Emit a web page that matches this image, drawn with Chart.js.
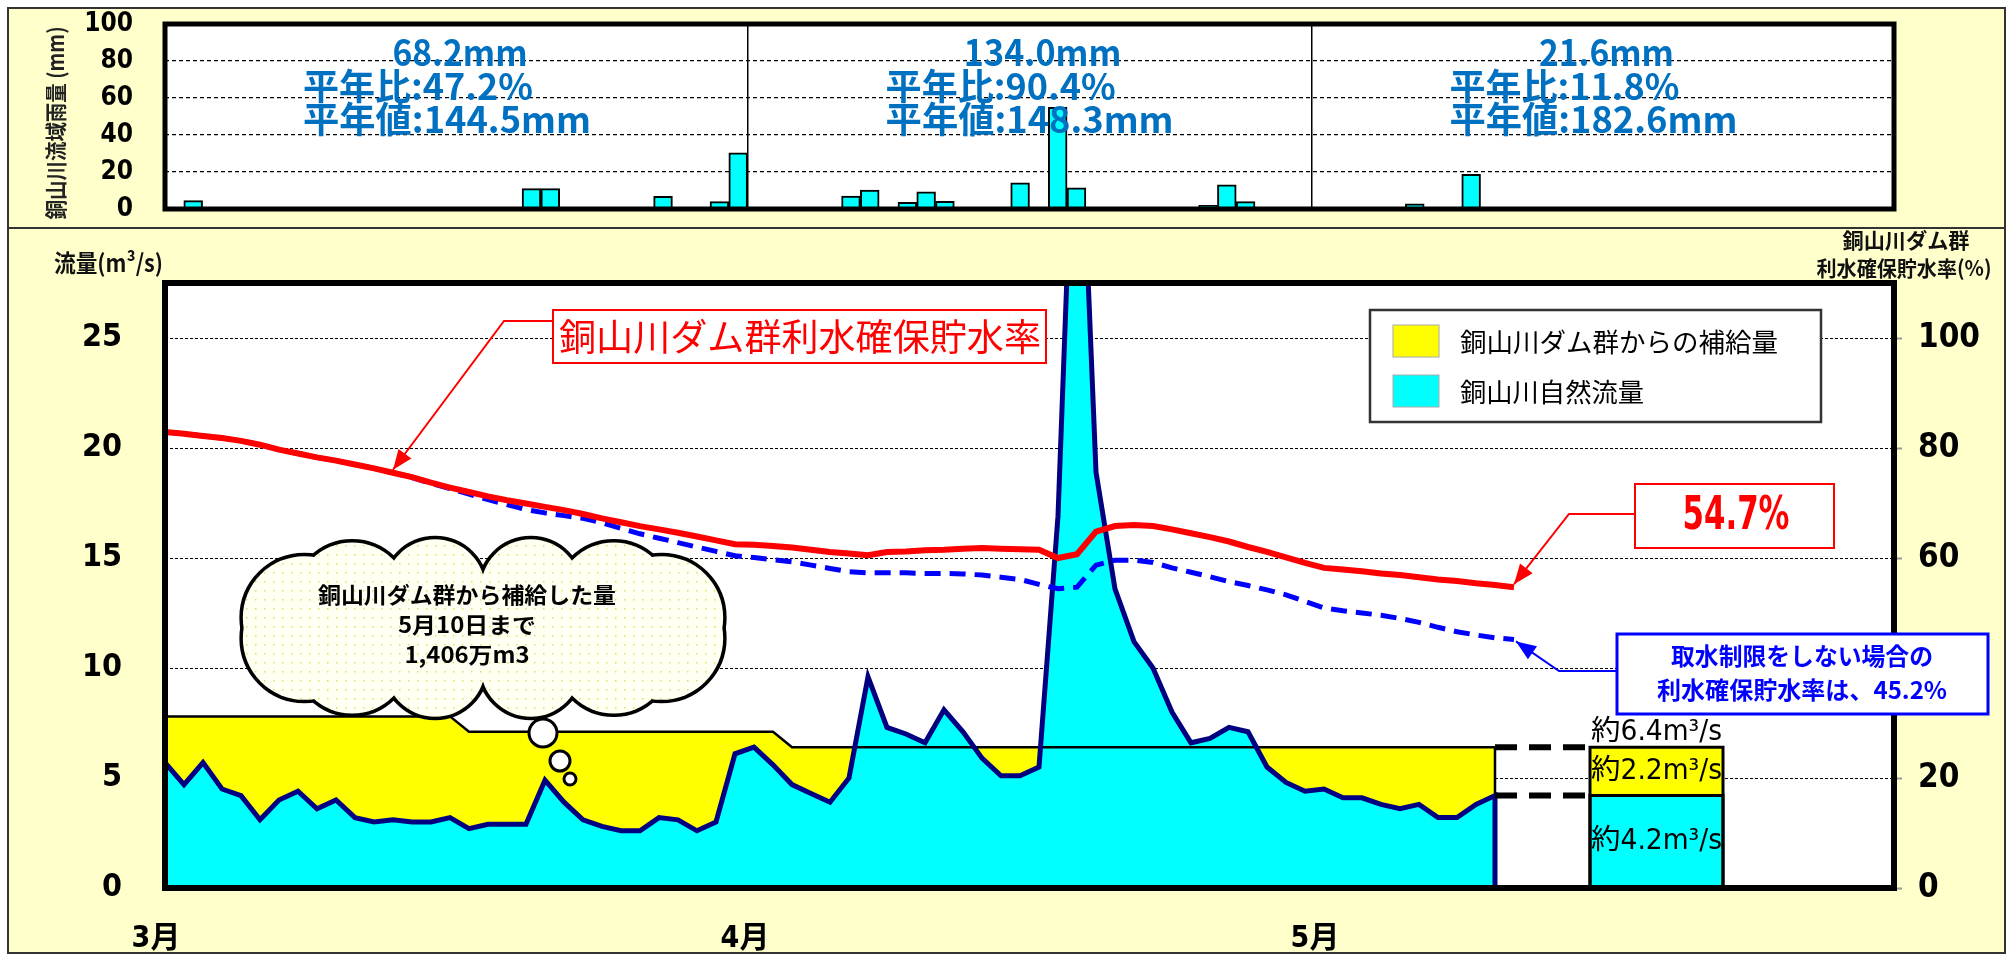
<!DOCTYPE html>
<html lang="ja">
<head>
<meta charset="utf-8">
<script src="https://cdn.jsdelivr.net/npm/chart.js@4.4.0/dist/chart.umd.min.js"></script>
<style>
  html, body { margin: 0; padding: 0; background: #fff; }
  body { width: 2011px; height: 956px; position: relative; overflow: hidden; }
  .panel { position: absolute; box-sizing: border-box; background: #ffffcc; border: 2px solid #333; }
  #rainPanel { left: 7px; top: 7px; width: 1999px; height: 222px; }
  #flowPanel { left: 7px; top: 227px; width: 1999px; height: 727px; }
  canvas { position: absolute; left: 0; }
  #rainChart { top: 0; }
  #flowChart { top: 227px; }
</style>
</head>
<body>
<div class="panel" id="rainPanel"></div>
<div class="panel" id="flowPanel"></div>
<canvas id="rainChart" width="2011" height="227"></canvas>
<canvas id="flowChart" width="2011" height="729"></canvas>
<script>
const NARROW = "'Liberation Sans Narrow', 'Arial Narrow', 'DejaVu Sans Condensed', 'Noto Sans CJK JP', sans-serif";
const JP = "'Noto Sans CJK JP', 'Noto Sans', sans-serif";

// x axis: 3/1 .. 5/31
const monthNames = ['3月', '4月', '5月'];
const monthDays = [31, 30, 31];
const monthStarts = [0, 31, 61];

// daily basin rainfall (mm)
const rainMm = [
  0, 4.5, 0, 0, 0, 0, 0, 0.6, 0, 0,
  0, 0, 0, 0, 0, 0, 0, 0, 0, 11.0,
  11.0, 0, 0, 0, 0, 0, 6.8, 0, 0, 4.0,
  30.3,
  0, 0, 0, 0, 0, 7.0, 10.2, 0, 3.6, 9.3,
  4.2, 0, 0, 0, 14.2, 0, 55.0, 11.5, 0, 0,
  0, 0, 0, 0, 2.0, 13.0, 4.0, 0, 0, 0,
  0, 0, 0, 0, 0, 2.8, 0, 0, 18.8, 0,
  0, 0, 0, 0, 0, 0, 0, 0, 0, 0,
  0, 0, 0, 0, 0, 0, 0, 0, 0, 0, 0
];
const rainTotals = ['68.2mm', '134.0mm', '21.6mm'];
const rainRatio = ['47.2%', '90.4%', '11.8%'];
const rainNormal = ['144.5mm', '148.3mm', '182.6mm'];

// 銅山川自然流量 (m3/s), 3/1 .. 5/11
const naturalFlow = [
  5.7, 4.7, 5.7, 4.5, 4.2, 3.1, 4.0, 4.4, 3.6, 4.0,
  3.2, 3.0, 3.1, 3.0, 3.0, 3.2, 2.7, 2.9, 2.9, 2.9,
  4.9, 3.9, 3.1, 2.8, 2.6, 2.6, 3.2, 3.1, 2.6, 3.0,
  6.1, 6.4, 5.6, 4.7, 4.3, 3.9, 5.0, 9.6, 7.3, 7.0,
  6.6, 8.1, 7.1, 5.9, 5.1, 5.1, 5.5, 16.9, 40.0, 18.9,
  13.6, 11.2, 10.0, 8.0, 6.6, 6.8, 7.3, 7.1, 5.5, 4.8,
  4.4, 4.5, 4.1, 4.1, 3.8, 3.6, 3.8, 3.2, 3.2, 3.8,
  4.2
];
// 自然流量 + ダム群からの補給量 (m3/s)
const totalFlow = [
  7.8, 7.8, 7.8, 7.8, 7.8, 7.8, 7.8, 7.8, 7.8, 7.8,
  7.8, 7.8, 7.8, 7.8, 7.8, 7.8, 7.1, 7.1, 7.1, 7.1,
  7.1, 7.1, 7.1, 7.1, 7.1, 7.1, 7.1, 7.1, 7.1, 7.1,
  7.1, 7.1, 7.1, 6.4, 6.4, 6.4, 6.4, 6.4, 6.4, 6.4,
  6.4, 6.4, 6.4, 6.4, 6.4, 6.4, 6.4, 6.4, 6.4, 6.4,
  6.4, 6.4, 6.4, 6.4, 6.4, 6.4, 6.4, 6.4, 6.4, 6.4,
  6.4, 6.4, 6.4, 6.4, 6.4, 6.4, 6.4, 6.4, 6.4, 6.4,
  6.4
];
// 利水確保貯水率 (%)
const storageRate = [
  82.9, 82.6, 82.2, 81.8, 81.3, 80.6, 79.7, 79.0, 78.3, 77.7,
  77.0, 76.3, 75.5, 74.7, 73.7, 72.8, 72.0, 71.2, 70.5, 69.9,
  69.3, 68.7, 68.0, 67.2, 66.5, 65.8, 65.2, 64.6, 63.9, 63.2,
  62.5, 62.4, 62.2, 61.9, 61.5, 61.1, 60.8, 60.5, 61.1, 61.2,
  61.4, 61.5, 61.7, 61.8, 61.7, 61.6, 61.5, 60.0, 60.7, 64.8,
  65.8, 66.0, 65.8, 65.2, 64.5, 63.8, 63.0, 62.0, 61.1, 60.1,
  59.1, 58.2, 57.9, 57.6, 57.2, 56.9, 56.5, 56.1, 55.8, 55.4,
  55.1, 54.7
];
// 取水制限をしない場合の利水確保貯水率 (%)
const noLimitRate = [
  82.9, 82.6, 82.2, 81.8, 81.3, 80.6, 79.7, 79.0, 78.3, 77.7,
  77.0, 76.3, 75.5, 74.6, 73.6, 72.6, 71.6, 70.6, 69.7, 68.8,
  68.2, 67.7, 67.2, 66.4, 65.4, 64.4, 63.6, 62.8, 62.0, 61.2,
  60.4, 60.1, 59.7, 59.3, 58.7, 58.1, 57.5, 57.3, 57.3, 57.3,
  57.2, 57.2, 57.1, 56.9, 56.5, 56.1, 55.2, 54.4, 54.7, 58.7,
  59.6, 59.6, 59.2, 58.2, 57.4, 56.6, 55.7, 55.0, 54.2, 53.3,
  52.1, 50.9, 50.4, 50.0, 49.6, 49.0, 48.3, 47.4, 46.6, 46.0,
  45.5, 45.2
];
// 現在の概算流量 (m3/s)
const nowNatural = 4.2;
const nowSupply = 2.2;
const nowSlot = [75, 82];

const dayLabels = [];
monthDays.forEach((n, m) => { for (let d = 1; d <= n; d++) dayLabels.push((m + 3) + '/' + d); });

function fitText(ctx, text, x, y, w, align) {
  const m = ctx.measureText(text).width;
  ctx.save();
  ctx.translate(x, y);
  ctx.scale(w / m, 1);
  ctx.textAlign = align || 'left';
  ctx.fillText(text, 0, 0);
  ctx.restore();
}

function arrow(ctx, pts, color) {
  ctx.save();
  ctx.strokeStyle = color;
  ctx.fillStyle = color;
  ctx.lineWidth = 2;
  ctx.beginPath();
  ctx.moveTo(pts[0][0], pts[0][1]);
  for (let i = 1; i < pts.length; i++) ctx.lineTo(pts[i][0], pts[i][1]);
  ctx.stroke();
  const [x1, y1] = pts[pts.length - 2];
  const [x2, y2] = pts[pts.length - 1];
  const a = Math.atan2(y2 - y1, x2 - x1), L = 20, W = 8;
  ctx.beginPath();
  ctx.moveTo(x2, y2);
  ctx.lineTo(x2 - L * Math.cos(a) + W * Math.sin(a), y2 - L * Math.sin(a) - W * Math.cos(a));
  ctx.lineTo(x2 - L * Math.cos(a) - W * Math.sin(a), y2 - L * Math.sin(a) + W * Math.cos(a));
  ctx.closePath();
  ctx.fill();
  ctx.restore();
}

function textBox(ctx, x, y, w, h, stroke, lw) {
  ctx.save();
  ctx.fillStyle = '#fff';
  ctx.fillRect(x, y, w, h);
  ctx.strokeStyle = stroke;
  ctx.lineWidth = lw;
  ctx.strokeRect(x, y, w, h);
  ctx.restore();
}

function drawCloud(ctx, cx, cy) {
  const pat = document.createElement('canvas');
  pat.width = 9; pat.height = 9;
  const p = pat.getContext('2d');
  p.fillStyle = '#fffff2'; p.fillRect(0, 0, 9, 9);
  p.fillStyle = '#e6dc6a'; p.fillRect(3, 3, 1.5, 1.5);
  const bumps = [];
  for (let i = 0; i < 12; i++) {
    const t = (i + 0.5) / 12 * Math.PI * 2;
    bumps.push([cx + 185 * Math.cos(t), cy + 40 * Math.sin(t), 46 + 16 * Math.abs(Math.cos(t))]);
  }
  ctx.save();
  ctx.strokeStyle = '#000';
  ctx.lineWidth = 7;
  bumps.forEach(([x, y, r]) => { ctx.beginPath(); ctx.arc(x, y, r, 0, Math.PI * 2); ctx.stroke(); });
  ctx.fillStyle = ctx.createPattern(pat, 'repeat');
  bumps.forEach(([x, y, r]) => { ctx.beginPath(); ctx.arc(x, y, r, 0, Math.PI * 2); ctx.fill(); });
  ctx.beginPath(); ctx.ellipse(cx, cy, 190, 48, 0, 0, Math.PI * 2); ctx.fill();
  // thought bubbles
  ctx.lineWidth = 3;
  ctx.fillStyle = '#fff';
  [[60, 105, 14], [77, 133, 10], [87, 151, 6]].forEach(([dx, dy, r]) => {
    ctx.beginPath(); ctx.arc(cx + dx, cy + dy, r, 0, Math.PI * 2); ctx.fill(); ctx.stroke();
  });
  ctx.restore();
}

// keep the plot area fixed: no extra room for tick labels
function fixWidth(w) {
  return s => { s.width = w; s.paddingTop = 0; s.paddingBottom = 0; };
}

// ---------- rainfall chart ----------
const rainDecor = {
  id: 'rainDecor',
  beforeDraw(chart) {
    const { ctx, chartArea: a } = chart;
    ctx.save(); ctx.fillStyle = '#fff'; ctx.fillRect(a.left, a.top, a.width, a.height); ctx.restore();
  },
  afterDatasetsDraw(chart) {
    const { ctx, chartArea: a } = chart;
    ctx.save(); ctx.strokeStyle = '#000'; ctx.lineWidth = 5;
    ctx.strokeRect(a.left, a.top, a.width, a.height); ctx.restore();
  },
  afterDraw(chart) {
    const { ctx } = chart;
    const xs = chart.scales.x;
    const slot = xs.getPixelForValue(1) - xs.getPixelForValue(0);
    ctx.save();
    ctx.fillStyle = '#0070c0';
    ctx.textBaseline = 'middle';
    ctx.font = 'bold 36px ' + JP;
    monthStarts.forEach((s, i) => {
      const x0 = xs.getPixelForValue(s) - slot / 2;
      fitText(ctx, rainTotals[i], x0 + 295, 52, rainTotals[i].length * 22.5, 'center');
      fitText(ctx, '平年比:' + rainRatio[i], x0 + 138, 86, 230, 'left');
      fitText(ctx, '平年値:' + rainNormal[i], x0 + 138, 119, 288, 'left');
    });
    // y axis title
    ctx.fillStyle = '#222';
    ctx.font = 'bold 22px ' + JP;
    ctx.translate(56, 123);
    ctx.rotate(-Math.PI / 2);
    fitText(ctx, '銅山川流域雨量 (mm)', 0, 0, 193, 'center');
    ctx.restore();
  }
};

new Chart(document.getElementById('rainChart'), {
  type: 'bar',
  data: {
    labels: dayLabels,
    datasets: [{
      label: '銅山川流域雨量',
      data: rainMm,
      backgroundColor: '#00ffff',
      borderColor: '#000',
      borderWidth: 2,
      barPercentage: 1,
      categoryPercentage: 1,
    }],
  },
  options: {
    responsive: false,
    animation: false,
    layout: { padding: { top: 24, right: 117, left: 0, bottom: 0 } },
    plugins: { legend: { display: false }, tooltip: { enabled: false } },
    scales: {
      x: {
        ticks: { display: false, autoSkip: false },
        border: { display: false },
        grid: {
          drawTicks: false,
          lineWidth: 1.5,
          color: c => (c.index === monthStarts[1] || c.index === monthStarts[2]) ? '#000' : 'rgba(0,0,0,0)',
        },
        afterFit: s => { s.height = 18; },
      },
      y: {
        min: 0,
        max: 100,
        ticks: { stepSize: 20, padding: 32, color: '#000', font: { family: NARROW, size: 26, weight: 'bold' } },
        border: { display: false, dash: [4, 3] },
        grid: { drawTicks: false, color: '#000', lineWidth: 1.3 },
        afterFit: fixWidth(165),
      },
    },
  },
  plugins: [rainDecor],
});

// ---------- flow / storage chart ----------
const pts = arr => arr.map((v, i) => ({ x: i, y: v }));
const closed = arr => pts(arr).concat([{ x: arr.length - 1, y: 0 }]);
const slotBox = top => [
  { x: nowSlot[0], y: 0 }, { x: nowSlot[0], y: top },
  { x: nowSlot[1], y: top }, { x: nowSlot[1], y: 0 },
];
const lastIdx = naturalFlow.length - 1;
const nowTotal = +(nowNatural + nowSupply).toFixed(1);

const flowDecor = {
  id: 'flowDecor',
  beforeDraw(chart) {
    const { ctx, chartArea: a } = chart;
    ctx.save(); ctx.fillStyle = '#fff'; ctx.fillRect(a.left, a.top, a.width, a.height); ctx.restore();
  },
  afterDatasetsDraw(chart) {
    const { ctx, chartArea: a } = chart;
    ctx.save(); ctx.strokeStyle = '#000'; ctx.lineWidth = 6;
    ctx.strokeRect(a.left, a.top, a.width, a.height); ctx.restore();
  },
  afterDraw(chart) {
    const { ctx } = chart;
    const xs = chart.scales.x, ys = chart.scales.y, y2 = chart.scales.y2;
    ctx.save();
    ctx.textBaseline = 'middle';

    // axis titles
    ctx.fillStyle = '#111';
    ctx.font = 'bold 24px ' + JP;
    fitText(ctx, '流量(m³/s)', 54, 36, 109, 'left');
    ctx.font = 'bold 21px ' + JP;
    fitText(ctx, '銅山川ダム群', 1906, 13, 127, 'center');
    fitText(ctx, '利水確保貯水率(%)', 1904, 41, 175, 'center');

    // legend
    textBox(ctx, 1370, 83, 451, 112, '#333', 2.5);
    ctx.fillStyle = '#ffff00'; ctx.fillRect(1393, 98, 46, 32);
    ctx.fillStyle = '#00ffff'; ctx.fillRect(1393, 148, 46, 32);
    ctx.strokeStyle = '#aaa'; ctx.lineWidth = 1;
    ctx.strokeRect(1393, 98, 46, 32); ctx.strokeRect(1393, 148, 46, 32);
    ctx.fillStyle = '#000';
    ctx.font = '26px ' + JP;
    fitText(ctx, '銅山川ダム群からの補給量', 1460, 115, 318, 'left');
    fitText(ctx, '銅山川自然流量', 1460, 165, 184, 'left');

    // title box for storage line
    const tip1 = [xs.getPixelForValue(12), y2.getPixelForValue(storageRate[12]) - 3];
    arrow(ctx, [[553, 94], [504, 94], tip1], '#ff0000');
    textBox(ctx, 553, 83, 493, 53, '#ff0000', 2);
    ctx.fillStyle = '#ff0000';
    ctx.font = '37px ' + JP;
    fitText(ctx, '銅山川ダム群利水確保貯水率', 800, 110, 482, 'center');

    // latest storage value
    const li = storageRate.length - 1;
    const tip2 = [xs.getPixelForValue(li), y2.getPixelForValue(storageRate[li]) - 3];
    arrow(ctx, [[1635, 287], [1569, 287], tip2], '#ff0000');
    textBox(ctx, 1635, 257, 199, 64, '#ff0000', 2);
    ctx.fillStyle = '#ff0000';
    ctx.font = 'bold 46px ' + NARROW;
    fitText(ctx, storageRate[li].toFixed(1) + '%', 1736, 290, 107, 'center');

    // no-restriction storage value
    const bi = noLimitRate.length - 1;
    const tip3 = [xs.getPixelForValue(bi) + 2, y2.getPixelForValue(noLimitRate[bi]) + 2];
    arrow(ctx, [[1617, 444], [1559, 444], tip3], '#0000ff');
    textBox(ctx, 1617, 407, 371, 80, '#0000ff', 3);
    ctx.fillStyle = '#0000ff';
    ctx.font = 'bold 24px ' + JP;
    fitText(ctx, '取水制限をしない場合の', 1802, 429, 262, 'center');
    fitText(ctx, '利水確保貯水率は、' + noLimitRate[bi].toFixed(1) + '%', 1802, 463, 290, 'center');

    // cloud
    drawCloud(ctx, 483, 401);
    ctx.fillStyle = '#000';
    ctx.font = 'bold 22px ' + JP;
    fitText(ctx, '銅山川ダム群から補給した量', 467, 368, 298, 'center');
    fitText(ctx, '5月10日まで', 467, 398, 138, 'center');
    fitText(ctx, '1,406万m3', 467, 428, 125, 'center');

    // labels on the current-flow bar
    const cx = (xs.getPixelForValue(nowSlot[0]) + xs.getPixelForValue(nowSlot[1])) / 2;
    const w = xs.getPixelForValue(nowSlot[1]) - xs.getPixelForValue(nowSlot[0]) - 2;
    ctx.fillStyle = '#000';
    ctx.font = '28px ' + NARROW;
    fitText(ctx, '約' + nowTotal.toFixed(1) + 'm³/s', cx, ys.getPixelForValue(nowTotal) - 14, w, 'center');
    fitText(ctx, '約' + nowSupply.toFixed(1) + 'm³/s', cx, (ys.getPixelForValue(nowTotal) + ys.getPixelForValue(nowNatural)) / 2, w, 'center');
    fitText(ctx, '約' + nowNatural.toFixed(1) + 'm³/s', cx, (ys.getPixelForValue(nowNatural) + ys.getPixelForValue(0)) / 2, w, 'center');
    ctx.restore();
  }
};

new Chart(document.getElementById('flowChart'), {
  type: 'line',
  data: {
    datasets: [
      {
        label: '銅山川ダム群利水確保貯水率',
        data: pts(storageRate),
        yAxisID: 'y2',
        borderColor: '#ff0000',
        borderWidth: 6,
        fill: false,
        order: 0,
      },
      {
        label: '取水制限をしない場合',
        data: pts(noLimitRate),
        yAxisID: 'y2',
        borderColor: '#0000ff',
        borderWidth: 5,
        borderDash: [16, 9],
        fill: false,
        order: 1,
      },
      {
        label: 'connector total',
        data: [{ x: lastIdx, y: nowTotal }, { x: nowSlot[0], y: nowTotal }],
        borderColor: '#000',
        borderWidth: 6,
        borderDash: [22, 12],
        fill: false,
        order: 2,
      },
      {
        label: 'connector natural',
        data: [{ x: lastIdx, y: nowNatural }, { x: nowSlot[0], y: nowNatural }],
        borderColor: '#000',
        borderWidth: 6,
        borderDash: [22, 12],
        fill: false,
        order: 2,
      },
      {
        label: '約自然流量',
        data: slotBox(nowNatural),
        borderColor: '#000',
        borderWidth: 3,
        backgroundColor: '#00ffff',
        fill: 'origin',
        order: 3,
      },
      {
        label: '約補給量',
        data: slotBox(nowTotal),
        borderColor: '#000',
        borderWidth: 3,
        backgroundColor: '#ffff00',
        fill: 'origin',
        order: 4,
      },
      {
        label: '銅山川自然流量',
        data: closed(naturalFlow),
        borderColor: '#000080',
        borderWidth: 5,
        backgroundColor: '#00ffff',
        fill: 'origin',
        order: 5,
      },
      {
        label: '銅山川ダム群からの補給量',
        data: closed(totalFlow),
        borderColor: '#000',
        borderWidth: 2.5,
        backgroundColor: '#ffff00',
        fill: 'origin',
        order: 6,
      },
    ],
  },
  options: {
    responsive: false,
    animation: false,
    layout: { padding: { top: 56, left: 0, right: 0, bottom: 0 } },
    elements: { point: { radius: 0, hoverRadius: 0 }, line: { tension: 0 } },
    plugins: {
      legend: { display: false },
      tooltip: { enabled: false },
      filler: { drawTime: 'beforeDatasetsDraw' },
    },
    scales: {
      x: {
        type: 'linear',
        min: 0,
        max: 91,
        grid: { display: false },
        border: { display: false },
        afterBuildTicks: s => { s.ticks = monthStarts.map(v => ({ value: v })); },
        ticks: {
          callback: (v, i) => monthNames[i],
          autoSkip: false,
          maxRotation: 0,
          labelOffset: -9,
          padding: 25,
          color: '#000',
          font: { family: NARROW, size: 30, weight: 'bold' },
        },
        afterFit: s => { s.height = 68; s.paddingLeft = 0; s.paddingRight = 0; },
      },
      y: {
        position: 'left',
        min: 0,
        max: 27.5,
        ticks: { stepSize: 5, includeBounds: false, padding: 43, color: '#000', font: { family: NARROW, size: 32, weight: 'bold' } },
        grid: { drawTicks: false, color: '#000', lineWidth: 1 },
        border: { display: false, dash: [3, 2] },
        afterFit: fixWidth(165),
      },
      y2: {
        position: 'right',
        min: 0,
        max: 110,
        ticks: { stepSize: 20, includeBounds: false, padding: 16, color: '#000', font: { family: NARROW, size: 33, weight: 'bold' } },
        grid: { drawOnChartArea: false, drawTicks: true, tickLength: 8, tickColor: '#999', tickWidth: 2 },
        border: { display: false },
        afterFit: fixWidth(117),
      },
    },
  },
  plugins: [flowDecor],
});
</script>
</body>
</html>
